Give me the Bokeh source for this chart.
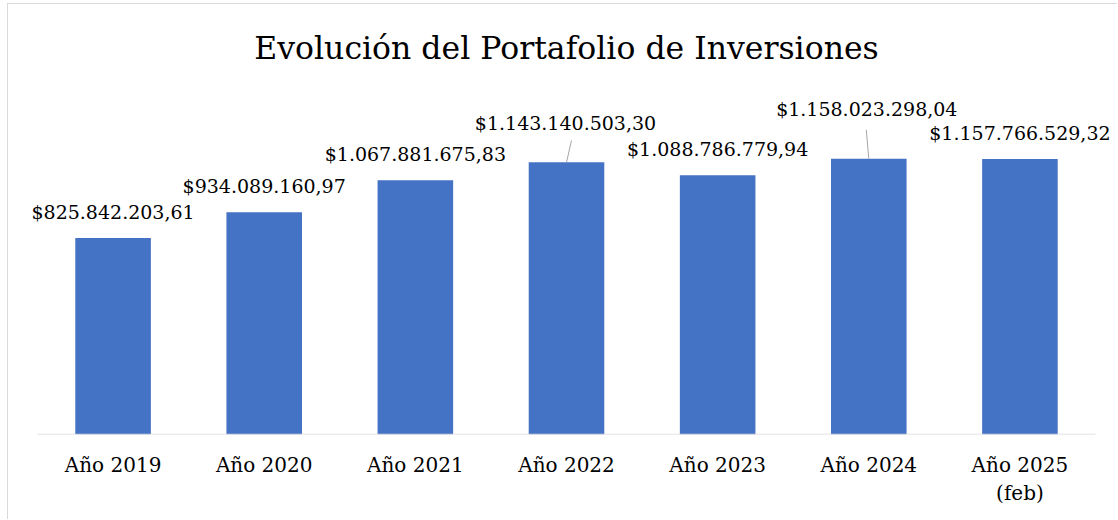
from bokeh.plotting import figure
from bokeh.models import FactorRange, Range1d, ColumnDataSource, LabelSet
from bokeh.transform import dodge
from bokeh.core.properties import value
from bokeh.embed import file_html
from bokeh.resources import INLINE

# ---------------- data ----------------
title_text = "Evolución del Portafolio de Inversiones"
categories = ["Año 2019", "Año 2020", "Año 2021", "Año 2022",
              "Año 2023", "Año 2024", "Año 2025\n(feb)"]
values = [825842203.61, 934089160.97, 1067881675.83, 1143140503.30,
          1088786779.94, 1158023298.04, 1157766529.32]


def fmt(v):
    s = f"{v:,.2f}"
    return "$" + s.replace(",", "X").replace(".", ",").replace("X", ".")


value_labels = [fmt(v) for v in values]

# ---------------- layout / style ----------------
FONT = "DejaVu Serif"
W, H = 1110, 516
MB_LEFT, MB_RIGHT, MB_BOTTOM = 6, 0, 86
FRAME_W = W - MB_LEFT - MB_RIGHT
SIDE_PAD_PX = 23                      # empty frame space beside the categories
CAT_PX = (FRAME_W - 2 * SIDE_PAD_PX) / len(categories)
RANGE_PAD = 2 * (SIDE_PAD_PX / CAT_PX) / len(categories)
FRAME_H = H - MB_BOTTOM
Y_END = 1.8063e9
PX = FRAME_H / Y_END                  # pixels per data unit

# label offsets in pixels (dx right, dy up from bar top, centre of text)
lab_dx = [0, 0, 0, -1, 0, -2, 0]
lab_dy = [26, 26, 26, 39, 26, 50, 26]
# leader lines for the moved labels: (index, dx px, dy px up)
leaders = [(3, 5, 22), (5, -2.5, 29)]

p = figure(x_range=FactorRange(*categories, range_padding=RANGE_PAD,
                               range_padding_units="percent"),
           y_range=Range1d(0, Y_END),
           width=W, height=H, output_backend="svg", toolbar_location=None,
           min_border_left=MB_LEFT, min_border_right=MB_RIGHT, min_border_top=0,
           min_border_bottom=MB_BOTTOM)
p.styles = {"margin-top": "3px", "margin-left": "7px",
            "border-left": "1px solid #d9d9d9", "border-top": "1px solid #d9d9d9"}
p.outline_line_color = None
p.xgrid.visible = False
p.ygrid.visible = False
p.yaxis.visible = False
p.background_fill_color = "white"
p.border_fill_color = "white"

src = ColumnDataSource(dict(cat=categories, val=values, lab=value_labels,
                            dx=lab_dx, dy=lab_dy))
p.vbar(x="cat", top="val", width=0.5, source=src,
       fill_color="#4472C4", line_color=None)

# category axis baseline spanning exactly the category slots
bsrc = ColumnDataSource(dict(c0=[categories[0]], c1=[categories[-1]], y=[0]))
p.segment(x0=dodge("c0", -0.5, range=p.x_range), y0="y",
          x1=dodge("c1", 0.5, range=p.x_range), y1="y",
          source=bsrc, line_color="#d9d9d9", line_width=1.5)

labels = LabelSet(x="cat", y="val", text="lab", x_offset="dx", y_offset="dy",
                  source=src, text_font=value(FONT), text_font_size="19px",
                  text_color="#000000", text_align="center",
                  text_baseline="middle")
p.add_layout(labels)

for i, dxp, dyp in leaders:
    lsrc = ColumnDataSource(dict(cat=[categories[i]], y0=[values[i]],
                                 y1=[values[i] + dyp / PX]))
    p.segment(x0="cat", y0="y0",
              x1=dodge("cat", dxp / CAT_PX, range=p.x_range), y1="y1",
              source=lsrc, line_color="#a6a6a6", line_width=1)

# title inside frame (frame spans the full canvas height)
title_y = (FRAME_H - 43.5) / PX
p.text(x=[categories[3]], y=[title_y], text=[title_text],
       text_font=value(FONT), text_font_size="31.5px", text_color="#000000",
       text_align="center", text_baseline="alphabetic")

ax = p.xaxis[0]
ax.axis_line_color = None
ax.major_tick_line_color = None
ax.minor_tick_line_color = None
ax.major_label_standoff = 12
ax.major_label_text_font = FONT
ax.major_label_text_font_size = "20px"
ax.major_label_text_color = "#000000"

open("out.html", "w").write(file_html(p, INLINE))
